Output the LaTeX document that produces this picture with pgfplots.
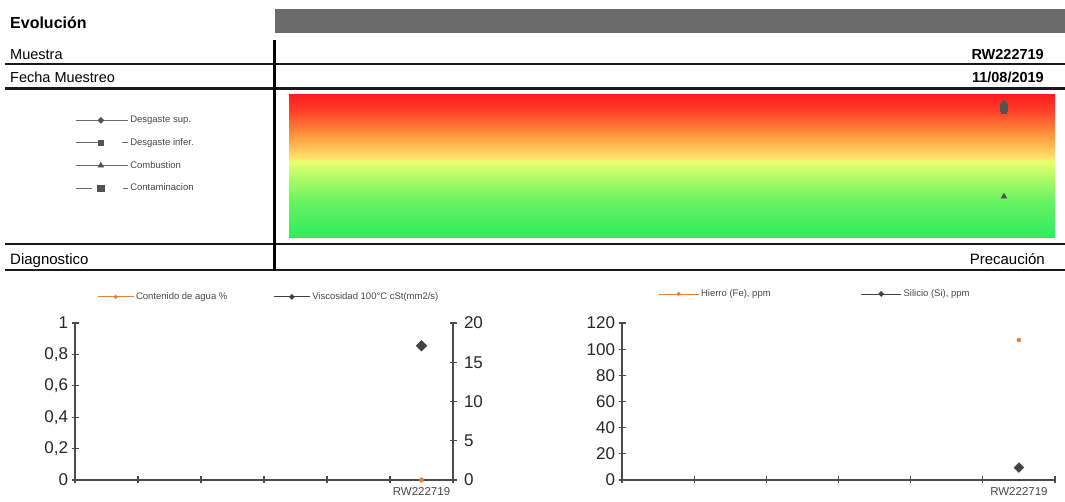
\documentclass[border=0pt]{standalone}
\usepackage{pgfplots}
\pgfplotsset{compat=1.18}
\usepackage{fontspec}
\setmainfont{Liberation Sans}
\definecolor{barg}{RGB}{107,107,107}
\definecolor{xorange}{RGB}{237,125,49}
\definecolor{xdark}{RGB}{64,64,64}
\definecolor{axgray}{RGB}{75,75,75}
\definecolor{mkgray}{RGB}{80,85,80}
\definecolor{lngray}{RGB}{105,105,105}
\definecolor{txgray}{RGB}{70,70,70}
\definecolor{gbot}{RGB}{45,236,95}
\definecolor{gtwo}{RGB}{105,243,98}
\definecolor{gthree}{RGB}{175,250,102}
\definecolor{gfour}{RGB}{235,255,112}
\definecolor{yone}{RGB}{255,232,108}
\definecolor{oone}{RGB}{255,150,62}
\definecolor{rone}{RGB}{255,60,40}
\definecolor{rtop}{RGB}{250,30,30}
\pgfdeclareverticalshading{rag}{100bp}{color(0bp)=(gbot); color(25bp)=(gbot); color(38bp)=(gtwo); color(46bp)=(gthree); color(52bp)=(gfour); color(52.6bp)=(yone); color(61bp)=(oone); color(70bp)=(rone); color(75bp)=(rtop); color(100bp)=(rtop)}
\pgfplotsset{
  diam/.style={mark=square*, mark options={solid, rotate=45}},
}
\begin{document}
\begin{tikzpicture}
\useasboundingbox (0pt,0pt) rectangle (1065pt,502pt);
\coordinate (PU) at (289pt,264pt);
\coordinate (PL) at (75pt,22pt);
\coordinate (PR) at (622pt,22pt);
% header table
\node[anchor=base west, inner sep=0pt, font=\bfseries\fontsize{16}{18}\selectfont] at (10pt,473pt) {Evolución};
\fill[barg] (275pt,469pt) rectangle (1065pt,493pt);
\node[anchor=base west, inner sep=0pt, font=\fontsize{14.5}{17}\selectfont] at (10pt,442pt) {Muestra};
\node[anchor=base east, inner sep=0pt, font=\bfseries\fontsize{14.5}{17}\selectfont] at (1044pt,442pt) {RW222719};
\node[anchor=base west, inner sep=0pt, font=\fontsize{14.5}{17}\selectfont] at (10pt,419pt) {Fecha Muestreo};
\node[anchor=base east, inner sep=0pt, font=\bfseries\fontsize{14.5}{17}\selectfont] at (1044pt,419pt) {11/08/2019};
\node[anchor=base west, inner sep=0pt, font=\fontsize{15}{17}\selectfont] at (10pt,237pt) {Diagnostico};
\node[anchor=base east, inner sep=0pt, font=\fontsize{15}{17}\selectfont] at (1045pt,237pt) {Precaución};
\draw[black!90, line width=2.5pt] (5pt,438pt) -- (1065pt,438pt);
\draw[black!90, line width=2.5pt] (5pt,413.5pt) -- (1065pt,413.5pt);
\draw[black!90, line width=2.5pt] (5pt,258pt) -- (1065pt,258pt);
\draw[black!90, line width=2.5pt] (5pt,232pt) -- (1065pt,232pt);
\draw[black, line width=3pt] (274pt,462pt) -- (274pt,230.5pt);
% upper panel
\begin{axis}[at={(PU)}, anchor=south west, width=766pt, height=143pt, scale only axis,
  xmin=-0.3, xmax=6.45, ymin=0, ymax=100, hide axis, clip=false,
  legend image code/.code={\draw[mark repeat=2,mark phase=2,#1] plot coordinates {(0pt,0pt) (25pt,0pt) (52pt,0pt)};},
  legend cell align=left,
  legend style={at={(axis description cs:-0.279,0.852)}, anchor=north west, draw=none, fill=none,
    inner sep=0pt, row sep=14.3pt, nodes={inner xsep=2pt, inner ysep=0pt},
    font=\fontsize{9.5}{11}\selectfont, text=txgray}]
\shade[shading=rag] (rel axis cs:0,0) rectangle (rel axis cs:1,1);
\addplot[lngray, line width=0.8pt, mark=square*, mark size=2pt, mark options={solid, rotate=45, fill=mkgray, draw=mkgray}] coordinates {(6,94)};
\addlegendentry{Desgaste sup.}
\addplot[lngray, line width=0.8pt, dash pattern=on 24pt off 22pt on 6pt, mark=square*, mark size=2.2pt, mark options={solid, fill=mkgray, draw=mkgray}] coordinates {(6,89)};
\addlegendentry{Desgaste infer.}
\addplot[lngray, line width=0.8pt, mark=triangle*, mark size=3pt, mark options={solid, fill=mkgray, draw=mkgray}] coordinates {(6,29)};
\addlegendentry{Combustion}
\addplot[lngray, line width=0.8pt, dash pattern=on 16pt off 31pt on 5pt, mark=square*, mark size=3.3pt, mark options={solid, fill=mkgray, draw=mkgray}] coordinates {(6,91)};
\addlegendentry{Contaminacion}
\end{axis}
% bottom left: water content (left axis)
\begin{axis}[at={(PL)}, anchor=south west, width=378pt, height=157pt, scale only axis,
  xmin=0, xmax=6, ymin=0, ymax=1, clip=false,
  axis x line=bottom, axis y line=left, axis line style={-, axgray, line width=1.5pt},
  xtick={0,1,2,3,4,5,6}, xticklabels={,,,,,,},
  ytick={0,0.2,0.4,0.6,0.8,1},
  tick align=center, major tick length=7pt, tick style={axgray, line width=1.3pt},
  /pgf/number format/assume math mode=true,
  yticklabel style={/pgf/number format/.cd, use comma, fixed, precision=1},
  tick label style={font=\fontsize{17}{19}\selectfont, text=black!85},
  extra x ticks={5.5}, extra x tick labels={RW222719},
  extra x tick style={major tick length=0pt, tick label style={font=\fontsize{11.5}{13}\selectfont, text=txgray, yshift=-4pt}}]
\addplot[xorange, only marks, mark=*, mark size=2.3pt] coordinates {(5.5,0)};
\end{axis}
% bottom left: viscosity (right axis)
\begin{axis}[at={(PL)}, anchor=south west, width=378pt, height=157pt, scale only axis,
  xmin=0, xmax=6, ymin=0, ymax=20, clip=false,
  axis x line=none, axis y line*=right, axis line style={-, axgray, line width=1.5pt},
  ytick={0,5,10,15,20},
  tick align=center, major tick length=7pt, tick style={axgray, line width=1.3pt},
  /pgf/number format/assume math mode=true,
  tick label style={font=\fontsize{17}{19}\selectfont, text=black!85},
  yticklabel style={xshift=4pt},
  legend columns=2,
  legend image code/.code={\draw[mark repeat=2,mark phase=2,#1] plot coordinates {(0pt,0pt) (18pt,0pt) (36pt,0pt)};},
  legend style={at={(axis description cs:0.058,1.166)}, anchor=west, draw=none, fill=none,
    inner sep=0pt, nodes={inner xsep=2pt, inner ysep=0pt},
    /tikz/every even column/.append style={column sep=44pt},
    font=\fontsize{9.5}{11}\selectfont, text=txgray}]
\addlegendimage{xorange, line width=0.9pt, mark=*, mark size=1.5pt}
\addlegendentry{Contenido de agua \%}
\addlegendimage{xdark, line width=0.9pt, diam, mark size=1.6pt}
\addlegendentry{Viscosidad 100°C cSt(mm2/s)}
\addplot[xdark, only marks, diam, mark size=3.8pt, forget plot] coordinates {(5.5,17.1)};
\end{axis}
% bottom right: metals
\begin{axis}[at={(PR)}, anchor=south west, width=433pt, height=157pt, scale only axis,
  xmin=0, xmax=6, ymin=0, ymax=120, clip=false,
  axis x line=bottom, axis y line=left, axis line style={-, axgray, line width=1.5pt},
  xtick={0,1,2,3,4,5,6}, xticklabels={,,,,,,},
  ytick={0,20,40,60,80,100,120},
  tick align=center, major tick length=7pt, tick style={axgray, line width=1.3pt},
  /pgf/number format/assume math mode=true,
  tick label style={font=\fontsize{17}{19}\selectfont, text=black!85},
  extra x ticks={5.5}, extra x tick labels={RW222719},
  extra x tick style={major tick length=0pt, tick label style={font=\fontsize{11.5}{13}\selectfont, text=txgray, yshift=-4pt}},
  legend columns=2,
  legend image code/.code={\draw[mark repeat=2,mark phase=2,#1] plot coordinates {(0pt,0pt) (20pt,0pt) (40pt,0pt)};},
  legend style={at={(axis description cs:0.083,1.185)}, anchor=west, draw=none, fill=none,
    inner sep=0pt, nodes={inner xsep=2pt, inner ysep=0pt},
    /tikz/every even column/.append style={column sep=88pt},
    font=\fontsize{9.5}{11}\selectfont, text=txgray}]
\addlegendimage{xorange, line width=0.9pt, mark=*, mark size=1.5pt}
\addlegendentry{Hierro (Fe), ppm}
\addlegendimage{xdark, line width=0.9pt, diam, mark size=1.6pt}
\addlegendentry{Silicio (Si), ppm}
\addplot[xorange, only marks, mark=*, mark size=2pt, forget plot] coordinates {(5.5,107)};
\addplot[xdark, only marks, diam, mark size=3.5pt, forget plot] coordinates {(5.5,9.5)};
\end{axis}
\end{tikzpicture}
\end{document}
